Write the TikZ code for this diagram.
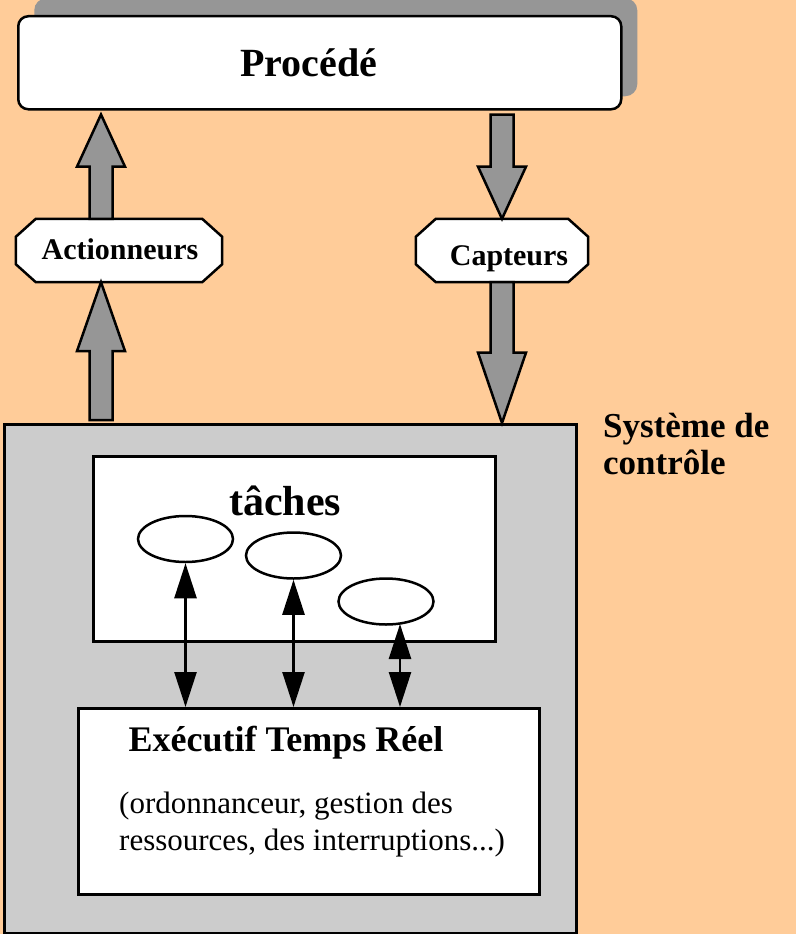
\documentclass[tikz,border=0pt]{standalone}
\usepackage{fontspec}
\setmainfont{Liberation Serif}
\usetikzlibrary{shapes.geometric,arrows.meta,calc,backgrounds}
\definecolor{peach}{RGB}{255,204,153}
\definecolor{arrowgray}{RGB}{150,150,150}
\definecolor{panelgray}{RGB}{204,204,204}

% wide grey block arrow from #1 (tail) to #2 (tip), head starting half way
\newcommand\blockarrow[2]{%
  \draw[blockarrowstyle] let \p1=(#1), \p2=(#2), \p3=($(#1)!0.5!(#2)$) in
    (\x1-11.5pt,\y1) -- (\x1-11.5pt,\y3) -- (\x1-24pt,\y3) -- (\x1,\y2)
    -- (\x1+24pt,\y3) -- (\x1+11.5pt,\y3) -- (\x1+11.5pt,\y1) -- cycle;}

% chamfered (octagonal) frame around node #1
\newcommand\octoframe[1]{%
  \draw[octostyle] ($(#1.north west)+(20,0)$) -- ($(#1.north east)+(-20,0)$)
    -- ($(#1.north east)+(0,18)$) -- ($(#1.south east)+(0,-18)$)
    -- ($(#1.south east)+(-20,0)$) -- ($(#1.south west)+(20,0)$)
    -- ($(#1.south west)+(0,-18)$) -- ($(#1.north west)+(0,18)$) -- cycle;}

\begin{document}
\begin{tikzpicture}[x=1pt,y=-1pt,
  boxstyle/.style={draw, line width=2.5pt, inner sep=0pt, anchor=north west},
  blockarrowstyle/.style={draw, fill=arrowgray, line width=2.5pt, line join=miter},
  octostyle/.style={draw, fill=white, line width=2.5pt, line join=miter},
  slot/.style={inner sep=0pt},
  taskstyle/.style={ellipse, draw, fill=white, line width=2.5pt, inner sep=0pt,
    minimum width=95pt, minimum height=46pt},
  linkstyle/.style={line width=2.5pt,
    {Triangle[length=35pt,width=22pt]}-{Triangle[length=35pt,width=22pt]}},
  txt/.style={inner sep=0pt, anchor=base},
  boldtxt/.style={txt, font=\bfseries\fontsize{#1}{#1}\selectfont},
  plaintxt/.style={inner sep=0pt, anchor=base west, font=\fontsize{31}{31}\selectfont}
]
\useasboundingbox (0,0) rectangle (796,934);
\begin{scope}[on background layer]
  \fill[peach] (0,0) rectangle (796,934);
\end{scope}

% the controlled process
\node[boxstyle, draw=none, fill=arrowgray, rounded corners=12pt,
      minimum width=603pt, minimum height=98pt] (procshadow) at (33,-3) {};
\node[boxstyle, fill=white, rounded corners=10pt,
      minimum width=603pt, minimum height=93pt] (proc) at (17,15) {};
\node[boldtxt=40] (proclabel) at (309,77) {Procédé};

% interface nodes
\node[slot, minimum width=206pt, minimum height=63pt] (act) at (119,250.5) {};
\node[slot, minimum width=172pt, minimum height=63pt] (capt) at (502,250.5) {};
\begin{scope}[on background layer]
  \octoframe{act}
  \octoframe{capt}
\end{scope}
\node[boldtxt=30] (actlabel) at (120,259) {Actionneurs};
\node[boldtxt=30] (captlabel) at (509,265) {Capteurs};

% control system
\node[boxstyle, fill=panelgray, minimum width=572pt, minimum height=509pt] (sys) at (3,423) {};
\node[inner sep=0pt, anchor=base west, font=\bfseries\fontsize{35}{35}\selectfont] (syslabelA) at (603,437) {Système de};
\node[inner sep=0pt, anchor=base west, font=\bfseries\fontsize{35}{35}\selectfont] (syslabelB) at (603,474) {contrôle};

% tasks
\node[boxstyle, fill=white, minimum width=402pt, minimum height=185pt] (tasks) at (92,455) {};
\node[boldtxt=42] (taskslabel) at (285,515) {tâches};
\node[taskstyle] (t1) at (185.5,539) {};
\node[taskstyle] (t2) at (293.5,555.5) {};
\node[taskstyle] (t3) at (386,601.5) {};

% real-time executive
\node[boxstyle, fill=white, minimum width=461pt, minimum height=186pt] (exec) at (77,707) {};
\node[boldtxt=36] (execlabel) at (286,751) {Exécutif Temps Réel};
\node[plaintxt] (execdescA) at (119,813) {(ordonnanceur, gestion des};
\node[plaintxt] (execdescB) at (119,850) {ressources, des interruptions...)};

% block arrows between process, interfaces and control system
\coordinate (colL) at (101,0);
\coordinate (colR) at (502,0);
\coordinate (actin) at ($(sys.north -| colL)+(0,-3)$);
\coordinate (actout) at ($(proc.south -| colL)+(0,4)$);
\coordinate (captin) at ($(proc.south -| colR)+(0,4)$);
\blockarrow{actin}{act.south -| colL}
\blockarrow{act.north -| colL}{actout}
\blockarrow{captin}{capt.north -| colR}
\blockarrow{capt.south -| colR}{sys.north -| colR}

% task <-> executive links
\coordinate (t3foot) at (400,624);
\draw[linkstyle] (t1.south) -- (t1.south |- exec.north);
\draw[linkstyle] (t2.south) -- (t2.south |- exec.north);
\draw[linkstyle] (t3foot) -- (t3foot |- exec.north);
\end{tikzpicture}
\end{document}
